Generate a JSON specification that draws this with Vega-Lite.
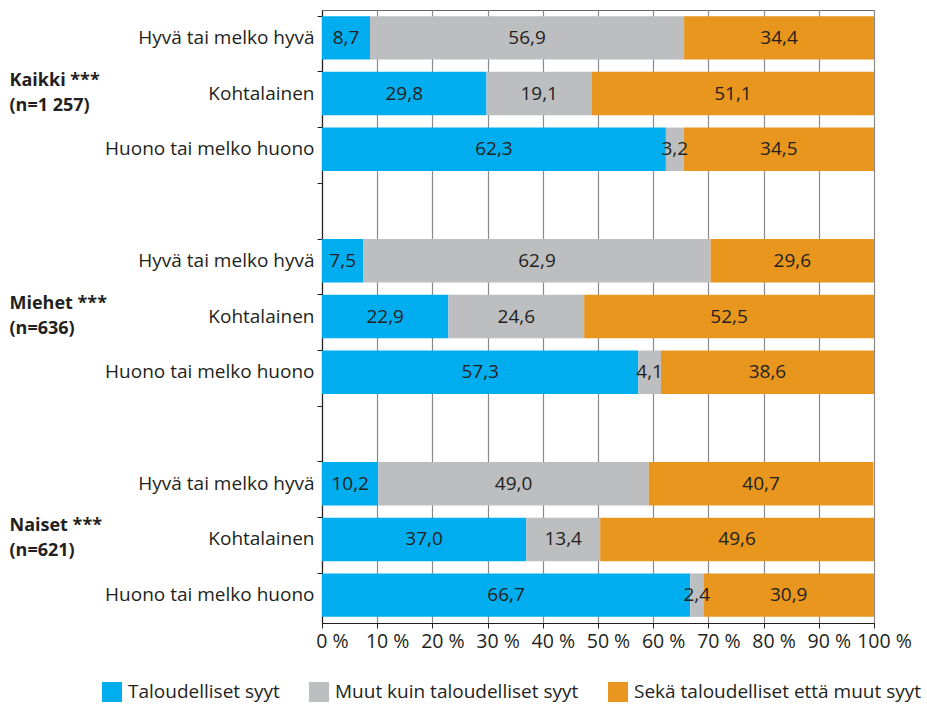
{
  "$schema": "https://vega.github.io/schema/vega-lite/v6.json",
  "width": 552,
  "height": 613,
  "padding": {"left": 9, "top": 10, "right": 5, "bottom": 2},
  "config": {
    "font": "Open Sans",
    "view": {"stroke": "#666666", "strokeWidth": 1},
    "locale": {"number": {"decimal": ",", "thousands": " ", "grouping": [3], "currency": ["", " €"]}}
  },
  "data": {"values": [
    {"slot": "K1", "reason": "Taloudelliset syyt", "order": 1, "value": 8.7},
    {"slot": "K1", "reason": "Muut kuin taloudelliset syyt", "order": 2, "value": 56.9},
    {"slot": "K1", "reason": "Sekä taloudelliset että muut syyt", "order": 3, "value": 34.4},
    {"slot": "K2", "reason": "Taloudelliset syyt", "order": 1, "value": 29.8},
    {"slot": "K2", "reason": "Muut kuin taloudelliset syyt", "order": 2, "value": 19.1},
    {"slot": "K2", "reason": "Sekä taloudelliset että muut syyt", "order": 3, "value": 51.1},
    {"slot": "K3", "reason": "Taloudelliset syyt", "order": 1, "value": 62.3},
    {"slot": "K3", "reason": "Muut kuin taloudelliset syyt", "order": 2, "value": 3.2},
    {"slot": "K3", "reason": "Sekä taloudelliset että muut syyt", "order": 3, "value": 34.5},
    {"slot": "M1", "reason": "Taloudelliset syyt", "order": 1, "value": 7.5},
    {"slot": "M1", "reason": "Muut kuin taloudelliset syyt", "order": 2, "value": 62.9},
    {"slot": "M1", "reason": "Sekä taloudelliset että muut syyt", "order": 3, "value": 29.6},
    {"slot": "M2", "reason": "Taloudelliset syyt", "order": 1, "value": 22.9},
    {"slot": "M2", "reason": "Muut kuin taloudelliset syyt", "order": 2, "value": 24.6},
    {"slot": "M2", "reason": "Sekä taloudelliset että muut syyt", "order": 3, "value": 52.5},
    {"slot": "M3", "reason": "Taloudelliset syyt", "order": 1, "value": 57.3},
    {"slot": "M3", "reason": "Muut kuin taloudelliset syyt", "order": 2, "value": 4.1},
    {"slot": "M3", "reason": "Sekä taloudelliset että muut syyt", "order": 3, "value": 38.6},
    {"slot": "N1", "reason": "Taloudelliset syyt", "order": 1, "value": 10.2},
    {"slot": "N1", "reason": "Muut kuin taloudelliset syyt", "order": 2, "value": 49.0},
    {"slot": "N1", "reason": "Sekä taloudelliset että muut syyt", "order": 3, "value": 40.7},
    {"slot": "N2", "reason": "Taloudelliset syyt", "order": 1, "value": 37.0},
    {"slot": "N2", "reason": "Muut kuin taloudelliset syyt", "order": 2, "value": 13.4},
    {"slot": "N2", "reason": "Sekä taloudelliset että muut syyt", "order": 3, "value": 49.6},
    {"slot": "N3", "reason": "Taloudelliset syyt", "order": 1, "value": 66.7},
    {"slot": "N3", "reason": "Muut kuin taloudelliset syyt", "order": 2, "value": 2.4},
    {"slot": "N3", "reason": "Sekä taloudelliset että muut syyt", "order": 3, "value": 30.9}
  ]},
  "transform": [
    {"stack": "value", "groupby": ["slot"], "sort": [{"field": "order"}], "as": ["x0", "x1"]},
    {"calculate": "(datum.x0 + datum.x1) / 2", "as": "mid"}
  ],
  "resolve": {"axis": {"y": "independent"}},
  "layer": [
    {
      "mark": {"type": "bar"},
      "encoding": {
        "y": {
          "field": "slot", "type": "nominal",
          "scale": {"domain": ["K1", "K2", "K3", "g1", "M1", "M2", "M3", "g2", "N1", "N2", "N3"], "paddingInner": 0.22, "paddingOuter": 0.11},
          "axis": {
            "orient": "left", "title": null, "ticks": false, "tickSize": 0, "labelPadding": 8,
            "labelFontSize": 19, "labelColor": "#231f20", "labelFont": "Open Sans", "labelLimit": 0,
            "domainColor": "#231f20", "domainWidth": 1.2,
            "labelExpr": "datum.value[0] == 'g' ? '' : (datum.value[1] == '1' ? 'Hyvä tai melko hyvä' : (datum.value[1] == '2' ? 'Kohtalainen' : 'Huono tai melko huono'))"
          }
        },
        "x": {
          "field": "x0", "type": "quantitative",
          "scale": {"domain": [0, 100], "nice": false},
          "axis": {
            "title": null, "values": [0, 10, 20, 30, 40, 50, 60, 70, 80, 90, 100],
            "labelExpr": "datum.value + ' %'", "labelFontSize": 19.5, "labelColor": "#231f20",
            "labelPadding": 4, "labelOffset": 10, "labelOverlap": false, "labelFlush": false,
            "gridColor": "#8a8a8a", "gridWidth": 1.2, "gridOpacity": 1,
            "tickColor": "#231f20", "tickSize": 5,
            "domainColor": "#231f20", "domainWidth": 1.2
          }
        },
        "x2": {"field": "x1"},
        "color": {
          "field": "reason", "type": "nominal",
          "scale": {"domain": ["Taloudelliset syyt", "Muut kuin taloudelliset syyt", "Sekä taloudelliset että muut syyt"], "range": ["#00aeef", "#bcbec0", "#e8961e"]},
          "legend": {
            "title": null, "orient": "none", "legendX": -220, "legendY": 672, "direction": "horizontal",
            "symbolType": "square", "symbolSize": 400, "symbolStrokeWidth": 0, "symbolOpacity": 1,
            "labelFontSize": 19, "labelColor": "#231f20", "labelOffset": 6, "columnPadding": 29, "labelLimit": 0
          }
        }
      }
    },
    {
      "mark": {"type": "text", "fontSize": 19, "color": "#231f20", "font": "Open Sans"},
      "encoding": {
        "y": {
          "field": "slot", "type": "nominal",
          "axis": {
            "orient": "left", "title": null, "ticks": false, "tickSize": 0, "domain": false,
            "labelAlign": "left", "labelPadding": 313, "labelFontSize": 18, "labelFontWeight": "bold",
            "labelColor": "#231f20", "labelLineHeight": 25, "labelBaseline": "middle", "labelOffset": -13, "labelLimit": 0,
            "labelExpr": "datum.value == 'K2' ? ['Kaikki ***', '(n=1 257)'] : (datum.value == 'M2' ? ['Miehet ***', '(n=636)'] : (datum.value == 'N2' ? ['Naiset ***', '(n=621)'] : ''))"
          }
        },
        "x": {"field": "mid", "type": "quantitative"},
        "text": {"field": "value", "type": "quantitative", "format": ".1f"}
      }
    },
    {
      "mark": {"type": "text", "opacity": 0},
      "encoding": {
        "y": {
          "field": "slot", "type": "nominal",
          "axis": {
            "orient": "left", "title": null, "labels": false, "domain": false, "grid": false,
            "ticks": true, "tickSize": 5, "tickColor": "#231f20", "bandPosition": 0
          }
        },
        "x": {"field": "mid", "type": "quantitative"},
        "text": {"value": ""}
      }
    }
  ]
}
